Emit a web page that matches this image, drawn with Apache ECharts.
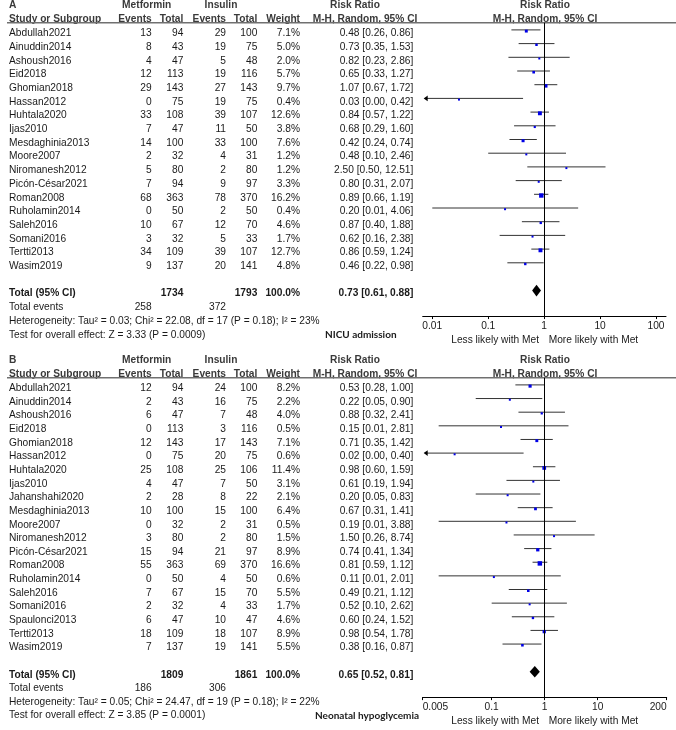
<!DOCTYPE html>
<html><head><meta charset="utf-8">
<script src="https://cdn.jsdelivr.net/npm/echarts@6/dist/echarts.min.js"></script>
<style>html,body{margin:0;padding:0;background:#fff}#c{width:676px;height:730px}</style>
</head><body><div id="c"></div>
<script>
// ---------- Panel A: NICU admission ----------
const A_studies = ['Abdullah2021','Ainuddin2014','Ashoush2016','Eid2018','Ghomian2018','Hassan2012','Huhtala2020','Ijas2010','Mesdaghinia2013','Moore2007','Niromanesh2012','Picón-César2021','Roman2008','Ruholamin2014','Saleh2016','Somani2016','Tertti2013','Wasim2019'];
const A_metEvents = [13,8,4,12,29,0,33,7,14,2,5,7,68,0,10,3,34,9];
const A_metTotal  = [94,43,47,113,143,75,108,47,100,32,80,94,363,50,67,32,109,137];
const A_insEvents = [29,19,5,19,27,19,39,11,33,4,2,9,78,2,12,5,39,20];
const A_insTotal  = [100,75,48,116,143,75,107,50,100,31,80,97,370,50,70,33,107,141];
const A_weight = [7.1,5.0,2.0,5.7,9.7,0.4,12.6,3.8,7.6,1.2,1.2,3.3,16.2,0.4,4.6,1.7,12.7,4.8];
const A_rr = [0.48,0.73,0.82,0.65,1.07,0.03,0.84,0.68,0.42,0.48,2.50,0.80,0.89,0.20,0.87,0.62,0.86,0.46];
const A_lo = [0.26,0.35,0.23,0.33,0.67,0.00,0.57,0.29,0.24,0.10,0.50,0.31,0.66,0.01,0.40,0.16,0.59,0.22];
const A_hi = [0.86,1.53,2.86,1.27,1.72,0.42,1.22,1.60,0.74,2.46,12.51,2.07,1.19,4.06,1.88,2.38,1.24,0.98];
const A_pooled = [0.73,0.61,0.88];
const A_hetero = 'Heterogeneity: Tau² = 0.03; Chi² = 22.08, df = 17 (P = 0.18); I² = 23%';
const A_overall = 'Test for overall effect: Z = 3.33 (P = 0.0009)';
const A_outcome = 'NICU admission';
const A_ticks = [0.01,0.1,1,10,100];
const A_axisRange = [0.00674,151];

// ---------- Panel B: Neonatal hypoglycemia ----------
const B_studies = ['Abdullah2021','Ainuddin2014','Ashoush2016','Eid2018','Ghomian2018','Hassan2012','Huhtala2020','Ijas2010','Jahanshahi2020','Mesdaghinia2013','Moore2007','Niromanesh2012','Picón-César2021','Roman2008','Ruholamin2014','Saleh2016','Somani2016','Spaulonci2013','Tertti2013','Wasim2019'];
const B_metEvents = [12,2,6,0,12,0,25,4,2,10,0,3,15,55,0,7,2,6,18,7];
const B_metTotal  = [94,43,47,113,143,75,108,47,28,100,32,80,94,363,50,67,32,47,109,137];
const B_insEvents = [24,16,7,3,17,20,25,7,8,15,2,2,21,69,4,15,4,10,18,19];
const B_insTotal  = [100,75,48,116,143,75,106,50,22,100,31,80,97,370,50,70,33,47,107,141];
const B_weight = [8.2,2.2,4.0,0.5,7.1,0.6,11.4,3.1,2.1,6.4,0.5,1.5,8.9,16.6,0.6,5.5,1.7,4.6,8.9,5.5];
const B_rr = [0.53,0.22,0.88,0.15,0.71,0.02,0.98,0.61,0.20,0.67,0.19,1.50,0.74,0.81,0.11,0.49,0.52,0.60,0.98,0.38];
const B_lo = [0.28,0.05,0.32,0.01,0.35,0.00,0.60,0.19,0.05,0.31,0.01,0.26,0.41,0.59,0.01,0.21,0.10,0.24,0.54,0.16];
const B_hi = [1.00,0.90,2.41,2.81,1.42,0.40,1.59,1.94,0.83,1.41,3.88,8.74,1.34,1.12,2.01,1.12,2.62,1.52,1.78,0.87];
const B_pooled = [0.65,0.52,0.81];
const B_hetero = 'Heterogeneity: Tau² = 0.05; Chi² = 24.47, df = 19 (P = 0.18); I² = 22%';
const B_overall = 'Test for overall effect: Z = 3.85 (P = 0.0001)';
const B_outcome = 'Neonatal hypoglycemia';
const B_ticks = [0.005,0.1,1,10,200];
const B_axisRange = [0.005,200];

// ---------- layout ----------
const W = 676;
const COL = {name:9, metEv:151.7, metTot:183.3, insEv:226, insTot:257.3, weight:300,
             rrText:413.3, rrHeadC:365, riskHeadC:355, metHeadC:146.7, insHeadC:221, forestC:545,
             lessR:539, moreL:548.7};
const FONT = '"Liberation Sans", Arial, sans-serif';
const FS = 10.2;

const panels = [
  {label:'A', studies:A_studies, me:A_metEvents, mt:A_metTotal, ie:A_insEvents, it:A_insTotal, w:A_weight,
   rr:A_rr, lo:A_lo, hi:A_hi, pooled:A_pooled, hetero:A_hetero, overall:A_overall, outcome:A_outcome,
   ticks:A_ticks, range:A_axisRange, row0:33.3, rowH:13.7, axL:422.7, axR:666, outcomeX:325, alignEnds:false},
  {label:'B', studies:B_studies, me:B_metEvents, mt:B_metTotal, ie:B_insEvents, it:B_insTotal, w:B_weight,
   rr:B_rr, lo:B_lo, hi:B_hi, pooled:B_pooled, hetero:B_hetero, overall:B_overall, outcome:B_outcome,
   ticks:B_ticks, range:B_axisRange, row0:388.3, rowH:13.64, axL:422.7, axR:666.7, outcomeX:315, alignEnds:true}
];

const sum = a => a.reduce((s,v)=>s+v,0);
const f2 = v => v.toFixed(2);
const ciText = (r,l,h) => `${f2(r)} [${f2(l)}, ${f2(h)}]`;

function buildCells(P){
  const n = P.studies.length, cells = [];
  const t = (x,row,text,align,kind) => cells.push({x,row,text,align,kind:kind||'n'});
  const hr1 = -2.07, hr2 = -1.05;
  t(COL.name,hr1,P.label,'left','h');
  t(COL.metHeadC,hr1,'Metformin','center','h');
  t(COL.insHeadC,hr1,'Insulin','center','h');
  t(COL.riskHeadC,hr1,'Risk Ratio','center','h');
  t(COL.forestC,hr1,'Risk Ratio','center','h');
  t(COL.name,hr2,'Study or Subgroup','left','h');
  t(COL.metEv,hr2,'Events','right','h');
  t(COL.metTot,hr2,'Total','right','h');
  t(COL.insEv,hr2,'Events','right','h');
  t(COL.insTot,hr2,'Total','right','h');
  t(COL.weight,hr2,'Weight','right','h');
  t(COL.rrHeadC,hr2,'M-H, Random, 95% CI','center','h');
  t(COL.forestC,hr2,'M-H, Random, 95% CI','center','h');
  cells.push({rule:true, x1:7, x2:W, row:-0.77});
  for(let i=0;i<n;i++){
    t(COL.name,i,P.studies[i],'left');
    t(COL.metEv,i,String(P.me[i]),'right');
    t(COL.metTot,i,String(P.mt[i]),'right');
    t(COL.insEv,i,String(P.ie[i]),'right');
    t(COL.insTot,i,String(P.it[i]),'right');
    t(COL.weight,i,P.w[i].toFixed(1)+'%','right');
    t(COL.rrText,i,ciText(P.rr[i],P.lo[i],P.hi[i]),'right');
  }
  t(COL.name,n+1,'Total (95% CI)','left','b');
  t(COL.metTot,n+1,String(sum(P.mt)),'right','b');
  t(COL.insTot,n+1,String(sum(P.it)),'right','b');
  t(COL.weight,n+1,'100.0%','right','b');
  t(COL.rrText,n+1,ciText(P.pooled[0],P.pooled[1],P.pooled[2]),'right','b');
  t(COL.name,n+2,'Total events','left');
  t(COL.metEv,n+2,String(sum(P.me)),'right');
  t(COL.insEv,n+2,String(sum(P.ie)),'right');
  t(COL.name,n+3,P.hetero,'left');
  t(COL.name,n+4,P.overall,'left');
  t(P.outcomeX,n+4,P.outcome,'left','o');
  t(COL.lessR,n+4.42,'Less likely with Met','right');
  t(COL.moreL,n+4.42,'More likely with Met','left');
  return cells;
}

function textRender(cells){
  return function(params, api){
    const c = cells[params.dataIndex];
    if(c.rule){
      const p1 = api.coord([c.x1,c.row]), p2 = api.coord([c.x2,c.row]);
      return {type:'line', shape:{x1:p1[0],y1:p1[1],x2:p2[0],y2:p2[1]}, style:{stroke:'#707070', lineWidth:1.6}};
    }
    const p = api.coord([c.x,c.row]);
    const bold = c.kind==='h'||c.kind==='b'||c.kind==='o';
    return {type:'text', x:p[0], y:p[1], style:{
      text:c.text, align:c.align, verticalAlign:'middle',
      fontSize: c.kind==='o'?10:FS,
      fontFamily: c.kind==='o'?'Lato, "Open Sans", sans-serif':FONT,
      fontWeight: bold?'bold':'normal',
      fill: c.kind==='h'?'#3a3a3a':'#1a1a1a'
    }};
  };
}

function forestRender(P){
  return function(params, api){
    const rr=api.value(0), row=api.value(1), lo=api.value(2), hi=api.value(3), w=api.value(4);
    const xMin=P.range[0], xMax=P.range[1];
    const loC = lo < xMin, hiC = hi > xMax;
    const dy = -3.4;
    const p0 = api.coord([loC?xMin:lo,row]), p1 = api.coord([hiC?xMax:hi,row]), pc = api.coord([rr,row]);
    const y = p0[1]+dy;
    const s = Math.max(2, Math.sqrt(w)*1.1);
    const ch = [
      {type:'line', shape:{x1:p0[0]+(loC?2:0),y1:y,x2:p1[0],y2:y}, style:{stroke:'#333', lineWidth:1}},
      {type:'rect', shape:{x:pc[0]-s/2,y:y+1.2-s/2,width:s,height:s}, style:{fill:'#0000e6'}}
    ];
    if(loC) ch.push({type:'polygon', shape:{points:[[p0[0]+1,y],[p0[0]+5,y-2.8],[p0[0]+5,y+2.8]]}, style:{fill:'#000'}});
    if(hiC) ch.push({type:'polygon', shape:{points:[[p1[0]-1,y],[p1[0]-5,y-2.8],[p1[0]-5,y+2.8]]}, style:{fill:'#000'}});
    return {type:'group', children:ch};
  };
}

function diamondRender(params, api){
  const rr=api.value(0), row=api.value(1), lo=api.value(2), hi=api.value(3);
  const pl=api.coord([lo,row]), pr=api.coord([hi,row]), pc=api.coord([rr,row]);
  const y = pc[1]-3, h = 5.8;
  return {type:'polygon', shape:{points:[[pl[0],y],[pc[0],y-h],[pr[0],y],[pc[0],y+h]]}, style:{fill:'#000'}};
}

const grid=[], xAxis=[], yAxis=[], series=[];
panels.forEach((P,k)=>{
  const n = P.studies.length;
  // table grid (full width, columns in pixel-like units)
  const tMin=-2.4, tMax=n+4.8;
  grid.push({left:0, width:W, top:P.row0+tMin*P.rowH, height:(tMax-tMin)*P.rowH, outerBoundsMode:'none', containLabel:false});
  xAxis.push({type:'value', gridIndex:2*k, min:0, max:W, show:false});
  yAxis.push({type:'value', gridIndex:2*k, min:tMin, max:tMax, inverse:true, show:false});
  // forest grid
  const fMin=-0.77, fMax=n+2.64;
  grid.push({left:P.axL, width:P.axR-P.axL, top:P.row0+fMin*P.rowH, height:(fMax-fMin)*P.rowH, outerBoundsMode:'none', containLabel:false});
  const fmt = v => { const t = P.ticks.find(t=>Math.abs(Math.log10(t)-Math.log10(v))<1e-6); return t===undefined?'':String(t); };
  xAxis.push({type:'log', logBase:10, gridIndex:2*k+1, min:P.range[0], max:P.range[1], position:'bottom',
    axisLine:{show:true, onZero:false, lineStyle:{color:'#000', width:1}},
    axisTick:{show:true, customValues:P.ticks, length:3, lineStyle:{color:'#000', width:1}},
    axisLabel:{show:true, customValues:P.ticks, formatter:fmt, fontSize:FS, fontFamily:FONT, color:'#1a1a1a', margin:5,
      alignMinLabel:P.alignEnds?'left':null, alignMaxLabel:P.alignEnds?'right':null, showMinLabel:true, showMaxLabel:true, hideOverlap:false},
    splitLine:{show:false}, minorTick:{show:false}});
  yAxis.push({type:'value', gridIndex:2*k+1, min:fMin, max:fMax, inverse:true, show:false});

  const cells = buildCells(P);
  series.push({type:'custom', xAxisIndex:2*k, yAxisIndex:2*k, silent:true, clip:false,
    data:cells.map(c=>[c.rule?c.x1:c.x, c.row]), renderItem:textRender(cells)});
  series.push({type:'custom', xAxisIndex:2*k+1, yAxisIndex:2*k+1, silent:true, clip:false,
    data:P.studies.map((s,i)=>[P.rr[i], i, P.lo[i], P.hi[i], P.w[i]]),
    encode:{x:0,y:1},
    renderItem:forestRender(P),
    markLine:{silent:true, symbol:'none', label:{show:false}, lineStyle:{color:'#000', width:1, type:'solid'},
      data:[{xAxis:1}], animation:false}});
  series.push({type:'custom', xAxisIndex:2*k+1, yAxisIndex:2*k+1, silent:true, clip:false,
    data:[[P.pooled[0], n+1, P.pooled[1], P.pooled[2]]], encode:{x:0,y:1}, renderItem:diamondRender});
});

const chart = echarts.init(document.getElementById('c'), null, {renderer:'canvas'});
chart.setOption({animation:false, backgroundColor:'#fff', grid, xAxis, yAxis, series});
</script></body></html>
